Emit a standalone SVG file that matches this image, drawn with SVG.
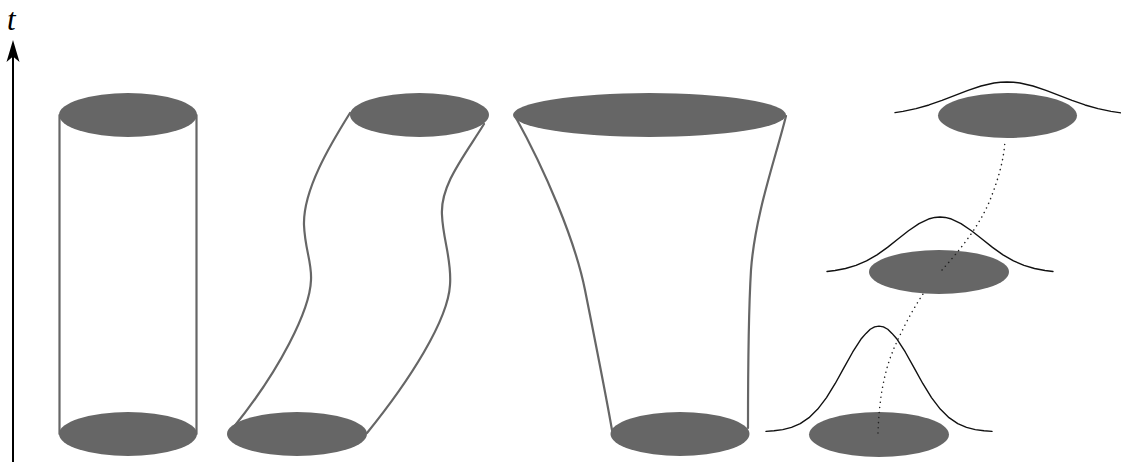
<svg xmlns="http://www.w3.org/2000/svg" width="1121" height="464" viewBox="0 0 1121 464">
<style>
.disc{fill:#666666;stroke:none}
.wall{fill:none;stroke:#666666;stroke-width:2.2;stroke-linecap:round}
.gauss{fill:none;stroke:#111111;stroke-width:1.4;stroke-linejoin:round;stroke-linecap:round}
.path{fill:none;stroke:#222222;stroke-width:1.5;stroke-dasharray:0.1 5;stroke-linecap:round}
.axis{stroke:#000000;stroke-width:2;fill:none}
</style>
<rect width="1121" height="464" fill="#ffffff"/>
<g id="axis">
<line class="axis" x1="13" y1="462" x2="13" y2="54"/>
<path d="M13,40 L19.5,62 L13,56.5 L6.5,62 Z" fill="#000000"/>
<text x="7" y="30" font-family="Liberation Serif, serif" font-style="italic" font-size="31" fill="#000000">t</text>
</g>
<g id="cylinder">
<line class="wall" x1="59.5" y1="115" x2="59.5" y2="434"/>
<line class="wall" x1="196.5" y1="115" x2="196.5" y2="434"/>
<ellipse class="disc" cx="128" cy="115" rx="69" ry="22"/>
<ellipse class="disc" cx="128" cy="434" rx="69" ry="22"/>
</g>
<g id="bent-tube">
<path class="wall" d="M350,113 C330,145 303,190 304,225 C305,250 312,262 311,280 C310,310 280,370 233,428"/>
<path class="wall" d="M484,124 C465,155 440,185 442,215 C443,240 452,260 450,285 C448,320 410,380 367,433"/>
<ellipse class="disc" cx="419.5" cy="115" rx="69.5" ry="22"/>
<ellipse class="disc" cx="297" cy="434" rx="70" ry="22"/>
</g>
<g id="cone">
<path class="wall" d="M515,116 C545,170 575,240 585,290 C595,340 605,390 612,430"/>
<path class="wall" d="M786,116 C775,160 755,215 751,270 C748,320 748,380 748,428"/>
<ellipse class="disc" cx="649.5" cy="115" rx="136.5" ry="22"/>
<ellipse class="disc" cx="680" cy="434" rx="69.5" ry="22"/>
</g>
<g id="diffusion-top">
<polyline class="gauss" points="895,112.6 903,111.4 916,108.65 929,104.96 942,100.43 955,95.38 968,90.34 981,86 994,83.05 1000.5,82.26 1007,82 1013.5,82.26 1020,83.05 1033,86 1046,90.34 1059,95.38 1072,100.43 1085,104.96 1098,108.65 1111,111.4 1121,112.9"/>
<ellipse class="disc" cx="1007.5" cy="115.5" rx="69.5" ry="22.5"/>
</g>
<g id="diffusion-middle">
<polyline class="gauss" points="827,271.5 835,270.54 845.5,268.54 856,265.42 866.5,260.89 877,254.82 887.5,247.36 898,239.04 908.5,230.73 919,223.58 929.5,218.72 934.75,217.44 940,217 945.25,217.44 950.5,218.72 961,223.58 971.5,230.73 982,239.04 992.5,247.36 1003,254.82 1013.5,260.89 1024,265.42 1034.5,268.54 1045,270.54 1053,271.5"/>
<ellipse class="disc" cx="939" cy="272" rx="70" ry="22"/>
</g>
<g id="diffusion-bottom">
<polyline class="gauss" points="766,431.4 774,430.8 782.75,429.6 791.5,427.35 800.25,423.56 809,417.66 817.75,409.07 826.5,397.58 835.25,383.47 844,367.71 852.75,351.99 861.5,338.45 866,333.4 870.25,329.26 874.6,326.83 879,326.1 883.4,326.83 887.75,329.26 892,333.4 896.5,338.45 905.25,351.99 914,367.71 922.75,383.47 931.5,397.58 940.25,409.07 949,417.66 957.75,423.56 966.5,427.35 975.25,429.58 984,430.8 992,431.4"/>
<ellipse class="disc" cx="879" cy="434.5" rx="70" ry="22.5"/>
</g>
<g id="connectors">
<path class="path" d="M878,433 C879,400 884,370 895,346 C903,328 913,309 923,294"/>
<path class="path" d="M942,270 C960,250 980,225 990,200 C998,180 1004,160 1005,140"/>
</g>
</svg>
